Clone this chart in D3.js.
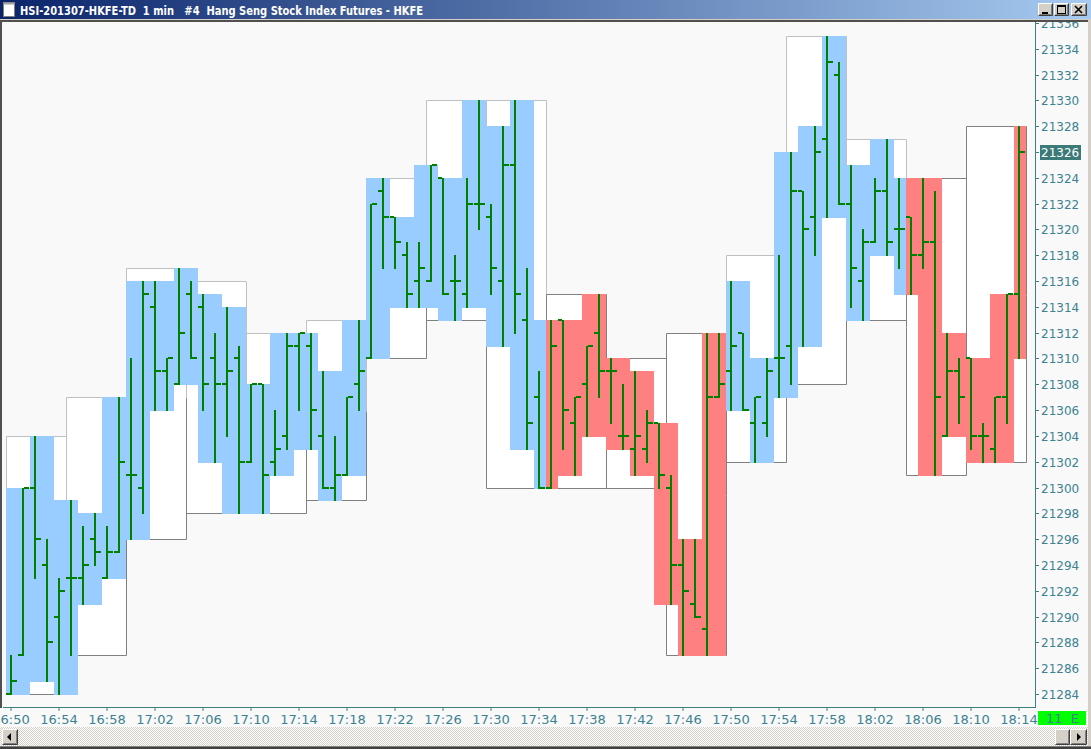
<!DOCTYPE html>
<html><head><meta charset="utf-8">
<script src="https://cdn.jsdelivr.net/npm/d3@7"></script>
<style>body{margin:0;background:#d4d0c8;overflow:hidden}svg{display:block}</style>
</head><body><svg id="c" width="1091" height="749"></svg>
<script>
// ---- data (1-minute bars, 16:50 .. 18:14) ----
const opens  = [21284,21287,21300,21294,21290,21293,21293,21296,21293,21295,21301,21300,21314,21309,21308,21315,21314,21310,21308,21310,21302,21308,21302,21304,21311,21311,21304,21300,21301,21308,21310,21323,21321,21318,21316,21316,21324,21316,21315,21322,21321,21316,21325,21313,21307,21300,21313,21305,21308,21312,21309,21304,21303,21303,21305,21300,21294,21291,21289,21307,21309,21312,21305,21305,21310,21311,21323,21321,21327,21332,21322,21316,21319,21323,21320,21321,21318,21319,21304,21309,21310,21304,21303,21307,21315];
const highs  = [21287,21300,21304,21296,21293,21299,21297,21298,21297,21307,21310,21316,21316,21310,21317,21316,21315,21312,21314,21311,21308,21308,21306,21312,21312,21312,21309,21304,21307,21313,21322,21324,21321,21319,21319,21325,21324,21318,21324,21330,21322,21328,21330,21317,21309,21313,21313,21307,21311,21315,21310,21308,21309,21306,21305,21301,21296,21296,21312,21312,21316,21312,21307,21310,21318,21326,21323,21328,21335,21333,21325,21320,21324,21327,21324,21321,21324,21323,21312,21310,21310,21305,21307,21315,21328];
const lows   = [21284,21287,21293,21285,21284,21287,21291,21294,21293,21295,21296,21298,21306,21306,21308,21310,21306,21302,21304,21298,21302,21298,21301,21303,21306,21303,21300,21299,21301,21306,21310,21317,21317,21314,21314,21316,21315,21313,21314,21320,21315,21311,21312,21303,21300,21300,21303,21301,21304,21307,21305,21303,21301,21302,21300,21291,21287,21290,21287,21307,21306,21306,21302,21304,21307,21308,21311,21318,21321,21322,21314,21313,21319,21318,21317,21315,21317,21301,21304,21305,21303,21302,21302,21305,21310];
const closes = [21285,21300,21296,21288,21292,21293,21294,21295,21295,21302,21301,21315,21309,21310,21312,21310,21308,21308,21309,21302,21308,21301,21303,21311,21312,21306,21300,21301,21307,21309,21322,21321,21319,21315,21317,21325,21315,21316,21322,21322,21317,21325,21315,21305,21300,21311,21306,21307,21311,21309,21309,21304,21304,21305,21301,21294,21292,21290,21307,21308,21311,21306,21307,21309,21310,21323,21320,21326,21333,21322,21317,21319,21323,21319,21320,21318,21319,21307,21309,21307,21304,21304,21307,21315,21326];
// trend of each 5-minute box (up = blue, down = red)
const boxTrend = ['up','up','up','up','up','up','up','up','up','down','down','down','up','up','up','down','down'];
const timeLabels = ['16:50','16:54','16:58','17:02','17:06','17:10','17:14','17:18','17:22','17:26','17:30','17:34','17:38','17:42','17:46','17:50','17:54','17:58','18:02','18:06','18:10','18:14'];
const priceTicks = d3.range(21284, 21338, 2);
const lastPrice = 21326;
const statusText = '11  E';
const titleText = 'HSI-201307-HKFE-TD  1 min   #4  Hang Seng Stock Index Futures - HKFE';

// ---- setup ----
const svg = d3.select('#c');
const n = opens.length;
const P = {left:3, right:1035, top:22, bottom:707};
const x = d3.scaleLinear().domain([0, n]).range([6, 1026]);
const y = d3.scaleLinear().domain([21284, 21334]).range([694, 48.8]);
const X = i => Math.round(x(i));
const Y = v => Math.round(y(v));
const teal = '#3c8291';
const UPC = '#99ccff', DNC = '#ff8080';

const defs = svg.append('defs');
const g1 = defs.append('linearGradient').attr('id','tb').attr('x1',0).attr('x2',1).attr('y1',0).attr('y2',0);
g1.append('stop').attr('offset',0).attr('stop-color','#0a246a');
g1.append('stop').attr('offset',1).attr('stop-color','#a6caf0');
defs.append('clipPath').attr('id','pc').append('rect')
  .attr('x',P.left).attr('y',P.top).attr('width',P.right-P.left).attr('height',P.bottom-P.top);
const pat = defs.append('pattern').attr('id','chk').attr('width',2).attr('height',2).attr('patternUnits','userSpaceOnUse');
pat.append('rect').attr('width',2).attr('height',2).attr('fill','#ffffff');
pat.append('rect').attr('width',1).attr('height',1).attr('fill','#d4d0c8');
pat.append('rect').attr('x',1).attr('y',1).attr('width',1).attr('height',1).attr('fill','#d4d0c8');

// window background
svg.append('rect').attr('width',1091).attr('height',749).attr('fill','#d4d0c8');
// chart + axis background
svg.append('rect').attr('x',0).attr('y',P.top).attr('width',1088).attr('height',727-P.top).attr('fill','#f9f9f9');

// ---- plot ----
const plot = svg.append('g').attr('clip-path','url(#pc)');

// 5-minute boxes
const nb = Math.ceil(n/5);
const boxes = d3.range(nb).map(b => {
  const idx = d3.range(b*5, Math.min(n, b*5+5));
  return {b, s:idx[0], e:idx[idx.length-1]+1, hi:d3.max(idx, i=>highs[i]), lo:d3.min(idx, i=>lows[i]), up: boxTrend[b]==='up'};
});
plot.selectAll('rect.box').data(boxes).join('rect').attr('class','box')
  .attr('x', d=>X(d.s)).attr('y', d=>Y(d.hi)).attr('width', d=>X(d.e)-X(d.s)).attr('height', d=>Y(d.lo)-Y(d.hi))
  .attr('fill','#ffffff');
const LIGHT='#c0c0c0', DARK='#808080';
boxes.forEach(d => {
  const x0 = X(d.s)+0.5, x1 = X(d.e)+0.5, yt = Y(d.hi)+0.5, yb = Y(d.lo)+0.5, ym = Math.round((yt+yb)/2)+0.5;
  const up = d.up ? LIGHT : DARK;
  const segs = [
    [x0,yt,x1,yt,up],[x0,yt,x0,ym,up],[x1,yt,x1,ym,up],
    [x0,ym,x0,yb,DARK],[x1,ym,x1,yb,DARK],[x0,yb,x1,yb,DARK]
  ];
  segs.forEach(s => plot.append('line').attr('x1',s[0]).attr('y1',s[1]).attr('x2',s[2]).attr('y2',s[3])
    .attr('stroke',s[4]).attr('stroke-width',1));
});

// 2-minute range columns, one slot per bar
const cols = d3.range(n).map(i => {
  const c = Math.floor(i/2);
  const idx = [2*c, 2*c+1].filter(k => k < n);
  return {i, hi:d3.max(idx, k=>highs[k]), lo:d3.min(idx, k=>lows[k]), up: boxTrend[Math.floor(i/5)]==='up'};
});
plot.selectAll('rect.col').data(cols).join('rect').attr('class','col')
  .attr('x', d=>X(d.i)).attr('width', d=>X(d.i+1)-X(d.i))
  .attr('y', d=>Y(d.hi)).attr('height', d=>Y(d.lo)-Y(d.hi)+1)
  .attr('fill', d=> d.up ? UPC : DNC);

// OHLC bars
const bars = d3.range(n).map(i => ({i, o:opens[i], h:highs[i], l:lows[i], c:closes[i]}));
const bg = plot.append('g').attr('fill','#008000');
bg.selectAll('rect.stem').data(bars).join('rect').attr('class','stem')
  .attr('x', d=>X(d.i)+4).attr('width',2).attr('y', d=>Y(d.h)).attr('height', d=>Y(d.l)-Y(d.h)+1);
bg.selectAll('rect.op').data(bars).join('rect').attr('class','op')
  .attr('x', d=>X(d.i)).attr('width',4).attr('y', d=>Y(d.o)-1).attr('height',2);
bg.selectAll('rect.cl').data(bars).join('rect').attr('class','cl')
  .attr('x', d=>X(d.i)+6).attr('width',5).attr('y', d=>Y(d.c)-1).attr('height',2);

// ---- axes ----
// right price axis
svg.append('line').attr('x1',P.right+0.5).attr('x2',P.right+0.5).attr('y1',P.top).attr('y2',P.bottom+1).attr('stroke','#3f7f80');
const ra = svg.append('g');
ra.selectAll('line').data(priceTicks).join('line')
  .attr('x1',P.right).attr('x2',P.right+4).attr('y1',d=>Y(d)+0.5).attr('y2',d=>Y(d)+0.5).attr('stroke','#3f7f80');
ra.selectAll('text').data(priceTicks).join('text')
  .attr('x',1041).attr('y',d=>Y(d)+4.5).text(d=>d)
  .attr('font-family','DejaVu Sans').attr('font-size',12).attr('fill',teal);
// last price marker
svg.append('rect').attr('x',1040).attr('y',Y(lastPrice)-7).attr('width',41).attr('height',15).attr('fill','#3b7a78');
svg.append('text').attr('x',1041).attr('y',Y(lastPrice)+4.5).text(lastPrice)
  .attr('font-family','DejaVu Sans').attr('font-size',12).attr('fill','#ffffff');

// bottom time axis
svg.append('line').attr('x1',P.left).attr('x2',P.right+1).attr('y1',P.bottom+0.5).attr('y2',P.bottom+0.5).attr('stroke','#3f7f80');
const tickIdx = timeLabels.map((t,k) => k*4);
const ba = svg.append('g');
ba.selectAll('line').data(tickIdx).join('line')
  .attr('x1',d=>X(d)+5).attr('x2',d=>X(d)+5).attr('y1',P.bottom).attr('y2',P.bottom+4).attr('stroke','#3f7f80');
ba.selectAll('text').data(timeLabels).join('text')
  .attr('x',(d,k)=>X(k*4)+5).attr('y',724).attr('text-anchor','middle').text(d=>d)
  .attr('font-family','DejaVu Sans').attr('font-size',13).attr('fill',teal);

// status box
svg.append('rect').attr('x',1038).attr('y',711).attr('width',48).attr('height',14).attr('fill','#00ff00');
svg.append('text').attr('x',1046).attr('y',723).text(statusText).attr('xml:space','preserve')
  .style('white-space','pre').attr('font-family','DejaVu Sans').attr('font-size',13).attr('fill',teal);

// plot frame: left border
svg.append('rect').attr('x',0).attr('y',P.top).attr('width',2).attr('height',P.bottom-P.top+1).attr('fill','#505050');
svg.append('rect').attr('x',1088).attr('y',19).attr('width',3).attr('height',730).attr('fill','#d4d0c8');

// ---- scrollbar ----
svg.append('rect').attr('x',0).attr('y',727).attr('width',1088).attr('height',19).attr('fill','url(#chk)');
function button(x0, y0, w, h) {
  const g = svg.append('g');
  g.append('rect').attr('x',x0).attr('y',y0).attr('width',w).attr('height',h).attr('fill','#d4d0c8');
  g.append('path').attr('d',`M${x0+0.5},${y0+h-0.5}V${y0+0.5}H${x0+w-0.5}`).attr('stroke','#ffffff').attr('fill','none');
  g.append('path').attr('d',`M${x0+0.5},${y0+h-0.5}H${x0+w-0.5}V${y0+0.5}`).attr('stroke','#404040').attr('fill','none');
  g.append('path').attr('d',`M${x0+1.5},${y0+h-1.5}H${x0+w-1.5}V${y0+1.5}`).attr('stroke','#808080').attr('fill','none');
  return g;
}
button(2,729,16,16).append('path').attr('d','M7,737 L11,733 L11,741 Z').attr('fill','#000');
button(1055,729,15,16);
button(1070,729,17,16).append('path').attr('d','M1077,733 L1081,737 L1077,741 Z').attr('fill','#000');
svg.append('rect').attr('x',0).attr('y',746).attr('width',1091).attr('height',1).attr('fill','#808080');
svg.append('rect').attr('x',0).attr('y',747).attr('width',1091).attr('height',2).attr('fill','#404040');

// ---- title bar ----
svg.append('rect').attr('x',0).attr('y',0).attr('width',1091).attr('height',19).attr('fill','url(#tb)');
svg.append('rect').attr('x',0).attr('y',19).attr('width',1091).attr('height',1).attr('fill','#d4d0c8');
svg.append('rect').attr('x',0).attr('y',20).attr('width',1088).attr('height',2).attr('fill','#505050');
// icon
svg.append('rect').attr('x',3.5).attr('y',2.5).attr('width',11).attr('height',14).attr('fill','#ffffff').attr('stroke','#808080');
svg.append('rect').attr('x',3.5).attr('y',2.5).attr('width',11).attr('height',2).attr('fill','#a0a0a0');
svg.append('text').attr('x',20).attr('y',15).text(titleText).attr('xml:space','preserve').style('white-space','pre')
  .attr('font-family','DejaVu Sans Condensed, DejaVu Sans').attr('font-weight','bold').attr('font-size',12)
  .attr('textLength',403).attr('lengthAdjust','spacingAndGlyphs').attr('fill','#ffffff');
const bMin = button(1038,3,15,13);
bMin.append('rect').attr('x',1042).attr('y',12).attr('width',6).attr('height',2).attr('fill','#000');
const bMax = button(1054,3,15,13);
bMax.append('rect').attr('x',1057.5).attr('y',5.5).attr('width',8).attr('height',8).attr('fill','none').attr('stroke','#000');
bMax.append('rect').attr('x',1057).attr('y',5).attr('width',9).attr('height',2).attr('fill','#000');
const bCl = button(1071,3,16,13);
bCl.append('path').attr('d','M1075,6 L1082,13 M1082,6 L1075,13').attr('stroke','#000').attr('stroke-width',1.6);
</script></body></html>
